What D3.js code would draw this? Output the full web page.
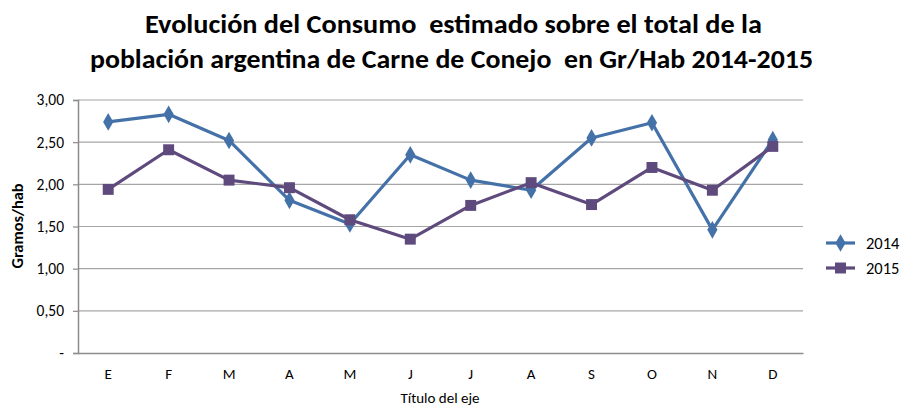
<!DOCTYPE html>
<html><head><meta charset="utf-8">
<script src="https://cdn.jsdelivr.net/npm/d3@7"></script>
<style>body{margin:0;background:#fff}svg{display:block}text{white-space:pre}</style>
</head><body>
<script>
const months = ["E","F","M","A","M","J","J","A","S","O","N","D"];
const s2014 = [2.74,2.83,2.52,1.81,1.53,2.35,2.05,1.93,2.55,2.73,1.46,2.53];
const s2015 = [1.94,2.41,2.05,1.96,1.58,1.35,1.75,2.02,1.76,2.20,1.93,2.45];
const yTicks = [0,0.5,1,1.5,2,2.5,3];
const titleLines = ["Evolución del Consumo  estimado sobre el total de la","población argentina de Carne de Conejo  en Gr/Hab 2014-2015"];
const series = [
  {name:"2014", values:s2014, color:"#4472A8", shape:"diamond"},
  {name:"2015", values:s2015, color:"#5E4A7C", shape:"square"}
];

const W=901,H=407;
const m={l:78,r:803,t:100,b:353};
const font="Carlito, Calibri, Lato, 'Open Sans', sans-serif";
const svg=d3.select("body").append("svg").attr("width",W).attr("height",H);

const x=d3.scaleBand().domain(d3.range(12)).range([m.l,m.r]);
const y=d3.scaleLinear().domain([0,3]).range([m.b,m.t]);

// title
const titleGeom=[{cx:453.5,y:33,len:617},{cx:451.5,y:68,len:723}];
titleLines.forEach((t,i)=>{
  svg.append("text").attr("x",titleGeom[i].cx).attr("y",titleGeom[i].y).attr("text-anchor","middle")
    .attr("font-family",font).attr("font-weight","bold").attr("font-size",26)
    .attr("textLength",titleGeom[i].len).attr("lengthAdjust","spacingAndGlyphs")
    .attr("fill","#000").text(t);
});

// gridlines
svg.append("g").selectAll("line").data(yTicks.filter(d=>d>0)).join("line")
  .attr("x1",m.l).attr("x2",m.r).attr("y1",d=>y(d)).attr("y2",d=>y(d))
  .attr("stroke","#A6A6A6").attr("stroke-width",1.2);

// y axis
const yAxis=d3.axisLeft(y).tickValues(yTicks).tickSize(5).tickPadding(9)
  .tickFormat(d=>d===0?"-":d3.format(".2f")(d).replace(".",","));
const gy=svg.append("g").attr("transform",`translate(${m.l},0)`).call(yAxis);
gy.select(".domain").attr("stroke","#8C8C8C").attr("stroke-width",1.5);
gy.selectAll(".tick line").attr("stroke","#8C8C8C").attr("stroke-width",1.2);
gy.selectAll("text").attr("font-family",font).attr("font-size",15.5).attr("fill","#000");

// x axis
const xAxis=d3.axisBottom(x).tickSize(0).tickPadding(15).tickFormat(i=>months[i]);
const gx=svg.append("g").attr("transform",`translate(0,${m.b})`).call(xAxis);
gx.select(".domain").attr("stroke","#8C8C8C").attr("stroke-width",1.5);
gx.selectAll("text").attr("font-family",font).attr("font-size",15).attr("fill","#000");

// axis titles
svg.append("text").attr("x",440).attr("y",403).attr("text-anchor","middle")
  .attr("font-family",font).attr("font-size",15).text("Título del eje");
svg.append("text").attr("transform","translate(23,226) rotate(-90)").attr("text-anchor","middle")
  .attr("font-family",font).attr("font-weight","bold").attr("font-size",15)
  .attr("textLength",85).attr("lengthAdjust","spacingAndGlyphs").text("Gramos/hab");

const cx=i=>x(i)+x.bandwidth()/2;
const line=d3.line().x((d,i)=>cx(i)).y(d=>y(d));
const sym={diamond:d3.symbol().type(d3.symbolDiamond).size(90), square:d3.symbol().type(d3.symbolSquare).size(120)};

series.forEach(s=>{
  svg.append("path").datum(s.values).attr("d",line).attr("fill","none")
    .attr("stroke",s.color).attr("stroke-width",3.2).attr("stroke-linejoin","round");
  svg.append("g").selectAll("path").data(s.values).join("path")
    .attr("transform",(d,i)=>`translate(${cx(i)},${y(d)})`)
    .attr("d",sym[s.shape]()).attr("fill",s.color);
});

// legend
series.forEach((s,i)=>{
  const ly=243+i*25;
  svg.append("line").attr("x1",826).attr("x2",855).attr("y1",ly).attr("y2",ly)
    .attr("stroke",s.color).attr("stroke-width",3.2);
  svg.append("path").attr("transform",`translate(840.5,${ly})`).attr("d",sym[s.shape]()).attr("fill",s.color);
  svg.append("text").attr("x",866).attr("y",ly+5.5).attr("font-family",font).attr("font-size",16.5)
    .attr("fill","#000").text(s.name);
});
</script>
</body></html>
